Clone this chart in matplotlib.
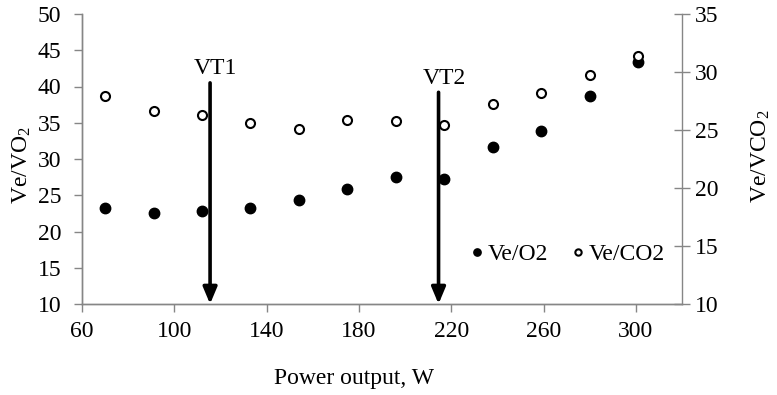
import matplotlib.pyplot as plt

plt.rcParams["font.family"] = ["Liberation Serif", "DejaVu Serif"]
plt.rcParams["mathtext.fontset"] = "custom"
plt.rcParams["mathtext.rm"] = "Liberation Serif"
plt.rcParams["mathtext.it"] = "Liberation Serif:italic"

# Incremental test: power output (W) and ventilatory equivalents
power = [70, 91, 112, 133, 154, 175, 196, 217, 238, 259, 280, 301]
ve_o2 = [23.3, 22.5, 22.8, 23.2, 24.4, 25.9, 27.5, 27.2, 31.7, 33.8, 38.7, 43.4]
ve_co2 = [27.9, 26.6, 26.3, 25.6, 25.1, 25.9, 25.8, 25.4, 27.2, 28.2, 29.7, 31.4]

# Ventilatory thresholds
vt_labels = ["VT1", "VT2"]
vt_power = [115.5, 214.5]
vt_top = [40.5, 39.2]

AXIS_GRAY = "#868686"
FS = 17

fig = plt.figure(figsize=(7.77, 3.95), dpi=100)
ax = fig.add_axes([82 / 777, 1 - 304 / 395, 600 / 777, 290 / 395])
ax2 = ax.twinx()

ax.plot(power, ve_o2, "o", color="black", markersize=7.5, label="Ve/O2", zorder=3)
ax2.plot(power, ve_co2, "o", markerfacecolor="white", markeredgecolor="black",
         markeredgewidth=1.5, markersize=6.5, label="Ve/CO2", zorder=3)

for name, x, top in zip(vt_labels, vt_power, vt_top):
    ax.annotate("", xy=(x, 10), xytext=(x, top),
                arrowprops=dict(arrowstyle="-|>,head_width=0.42,head_length=1.0",
                                lw=2.6, color="black", shrinkA=0, shrinkB=0),
                zorder=4)
    ax.text(x + 2.5, top + 0.5, name, ha="center", va="bottom", fontsize=FS)

ax.set_xlim(60, 320)
ax.set_ylim(10, 50)
ax2.set_ylim(10, 35)
ax.set_xticks(range(60, 301, 40))
ax.set_yticks(range(10, 51, 5))
ax2.set_yticks(range(10, 36, 5))

for a in (ax, ax2):
    for s in a.spines.values():
        s.set_color(AXIS_GRAY)
        s.set_linewidth(1.0)
    a.spines["top"].set_visible(False)
ax.spines["right"].set_visible(False)

ax.tick_params(axis="y", direction="out", length=6, width=1, color=AXIS_GRAY,
               labelsize=FS, pad=9)
ax.tick_params(axis="x", direction="out", length=6, width=1, color=AXIS_GRAY,
               labelsize=FS, pad=6)
ax2.tick_params(axis="y", direction="inout", length=12, width=1, color=AXIS_GRAY,
                labelsize=FS, pad=3)

ax.set_ylabel(r"Ve/VO$_2$", fontsize=FS)
ax.yaxis.set_label_coords(-0.082, 0.48)
ax2.set_ylabel(r"Ve/VCO$_2$", fontsize=FS)
ax2.yaxis.set_label_coords(1.112, 0.51)
ax.set_xlabel("Power output, W", fontsize=FS)
ax.xaxis.set_label_coords(0.453, -0.22)

h1, l1 = ax.get_legend_handles_labels()
h2, l2 = ax2.get_legend_handles_labels()
ax2.legend(h1 + h2, l1 + l2, loc="center right", bbox_to_anchor=(0.972, 0.17),
           ncol=2, frameon=False, fontsize=FS, markerscale=0.7,
           handlelength=0.6, handletextpad=0.15, columnspacing=1.0,
           borderpad=0, borderaxespad=0)

fig.savefig("out.png", dpi=100)
